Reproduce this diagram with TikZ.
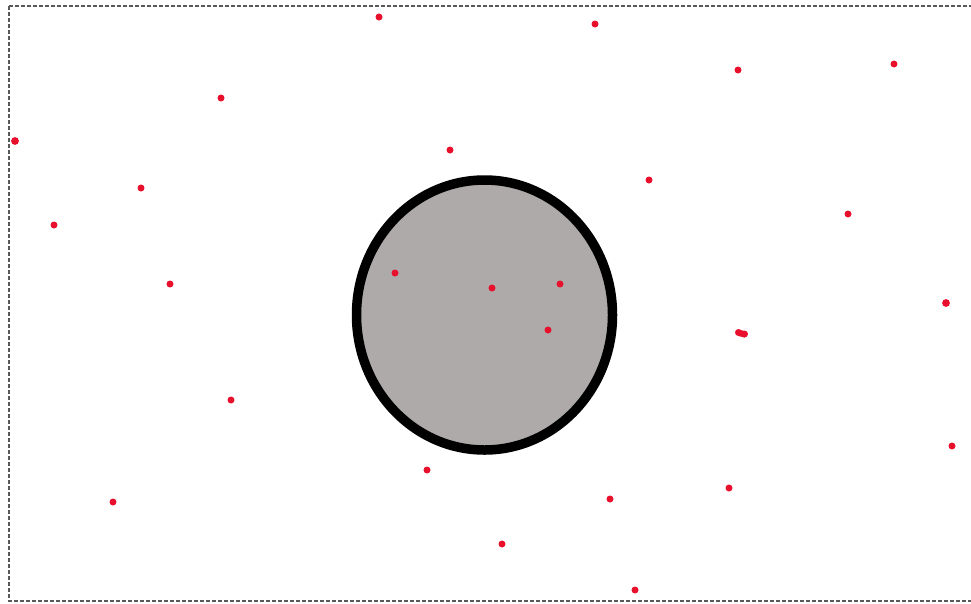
\documentclass[tikz,border=0pt]{standalone}
\definecolor{disk}{HTML}{ADAAA9}
\definecolor{dotred}{HTML}{E8102C}
\begin{document}
\begin{tikzpicture}[x=1pt,y=-1pt,
  dot/.style={fill=dotred,draw=none},
  frame/.style={draw=black!65,line width=1.2pt,dash pattern=on 4pt off 2pt}]
\useasboundingbox (0,0) rectangle (971,603);
\begin{scope}
\clip (0,0) rectangle (971,603);
\draw[frame] (9,6) rectangle (985,601);
\end{scope}
\draw[fill=disk,line width=9.5pt] (484.5,315) ellipse [x radius=128, y radius=135];
\foreach \x/\y in {379/17,595/24,738/70,894/64,221/98,450/150,649/180,141/188,54/225,848/214,170/284,395/273,492/288,560/284,548/330,231/400,952/446,427/470,610/499,729/488,113/502,502/544,635/590}
  \fill[dot] (\x,\y) circle (3.5);
\fill[dot] (15,141) circle (3.9);
\fill[dot] (946,303) circle (3.9);
\fill[dot] (738.5,332.5) circle (3.5);
\fill[dot] (744.5,334) circle (3.5);
\fill[dot] (738.5,329.5) -- (744.5,331) -- (744.5,337.5) -- (738.5,336) -- cycle;
\end{tikzpicture}
\end{document}
